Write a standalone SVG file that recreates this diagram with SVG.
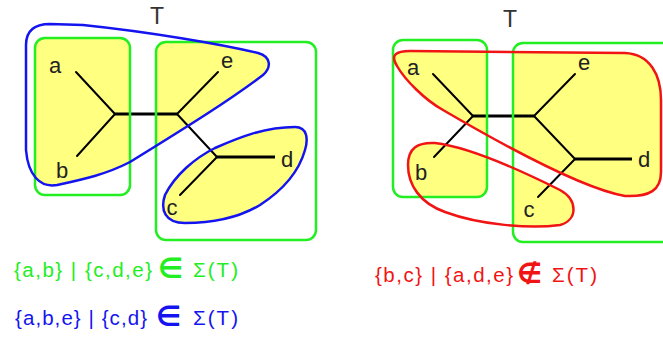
<svg xmlns="http://www.w3.org/2000/svg" width="663" height="338" viewBox="0 0 663 338">
<style>
.lbl{font-family:"Liberation Sans",Arial,sans-serif;font-size:22px;fill:#222;text-anchor:middle}
.ttl{font-family:"Liberation Sans",Arial,sans-serif;font-size:23px;fill:#333;text-anchor:middle}
.edge{stroke:#000;stroke-width:2;fill:none;stroke-linecap:round}
.thick{stroke:#000;stroke-width:3;fill:none}
.grn{fill:none;stroke:#22ee22;stroke-width:2.5}
.blu{fill:none;stroke:#1414f0;stroke-width:2.5}
.red{fill:none;stroke:#f01414;stroke-width:2.5}
.fx{font-family:"Liberation Sans",Arial,sans-serif;font-size:20.5px}
.op{font-family:"DejaVu Sans",sans-serif;font-size:28px;font-weight:bold}
.yel{fill:#ffff80}
</style>
<defs>
<path id="b1" d="M 26,150 L 26,45 C 26,30 35,24 50,24 L 83,25 C 150,32 220,44 258,53 C 272,57 271,68 263,75 C 230,100 190,125 130,162 C 105,175 80,180 57,185 C 40,188 28,175 26,150 Z"/>
<path id="b2" d="M 165,195 C 175,175 195,158 215,148 C 240,137 265,127 295,127 C 308,127 308,140 305,150 C 298,175 280,192 260,205 C 240,217 215,223 185,223 C 165,223 160,210 165,195 Z"/>
<path id="r1" d="M 397,66 C 390,55 396,51 410,51 L 625,53 C 650,54 661,75 661,100 L 661,172 C 661,190 650,197 625,196 C 590,190 520,155 443,110 C 425,100 405,80 397,66 Z"/>
<path id="r2" d="M 408,165 C 408,148 418,142 435,143 C 470,147 520,170 560,190 C 578,200 578,220 560,225 C 530,229 480,225 445,212 C 420,203 408,185 408,165 Z"/>
<clipPath id="clipL"><use href="#b1"/><use href="#b2"/></clipPath>
<clipPath id="clipR"><use href="#r1"/><use href="#r2"/></clipPath>
</defs>

<g id="fills">
<g clip-path="url(#clipL)">
<rect class="yel" x="35" y="38" width="95" height="157" rx="10"/>
<rect class="yel" x="156" y="42" width="160" height="198" rx="10"/>
</g>
<g clip-path="url(#clipR)">
<rect class="yel" x="393" y="40" width="94" height="157" rx="10"/>
<rect class="yel" x="513" y="43" width="160" height="199" rx="10"/>
</g>
</g>

<g id="connectors">
<line class="edge" x1="76" y1="72" x2="115" y2="114"/>
<line class="edge" x1="77" y1="156" x2="115" y2="114"/>
<line class="thick" x1="115" y1="114" x2="177" y2="114"/>
<line class="edge" x1="177" y1="114" x2="218" y2="72"/>
<line class="edge" x1="177" y1="114" x2="217" y2="157"/>
<line class="thick" x1="217" y1="157" x2="275" y2="157"/>
<line class="edge" x1="217" y1="157" x2="180" y2="195"/>
<line class="edge" x1="433" y1="74" x2="473" y2="116"/>
<line class="edge" x1="434" y1="157" x2="473" y2="116"/>
<line class="thick" x1="473" y1="116" x2="534" y2="116"/>
<line class="edge" x1="534" y1="116" x2="575" y2="74"/>
<line class="edge" x1="534" y1="116" x2="575" y2="159"/>
<line class="thick" x1="575" y1="159" x2="632" y2="159"/>
<line class="edge" x1="575" y1="159" x2="538" y2="197"/>
</g>

<g id="tree-left">
<text class="ttl" x="157" y="24">T</text>
<g id="node-a1"><text class="lbl" x="55" y="73">a</text></g>
<g id="node-b1"><text class="lbl" x="62" y="178">b</text></g>
<g id="node-e1"><text class="lbl" x="227" y="68">e</text></g>
<g id="node-d1"><text class="lbl" x="287" y="167">d</text></g>
<g id="node-c1"><text class="lbl" x="172" y="215">c</text></g>
<rect id="box-ab" class="grn" x="35" y="38" width="95" height="157" rx="10"/>
<rect id="box-cde" class="grn" x="156" y="42" width="160" height="198" rx="10"/>
<use id="set-abe" href="#b1" class="blu"/>
<use id="set-cd" href="#b2" class="blu"/>
</g>

<g id="tree-right">
<text class="ttl" x="510" y="27">T</text>
<g id="node-a2"><text class="lbl" x="413" y="75">a</text></g>
<g id="node-b2"><text class="lbl" x="421" y="180">b</text></g>
<g id="node-e2"><text class="lbl" x="584" y="70">e</text></g>
<g id="node-d2"><text class="lbl" x="644" y="167">d</text></g>
<g id="node-c2"><text class="lbl" x="529" y="217">c</text></g>
<rect id="box-ab2" class="grn" x="393" y="40" width="94" height="157" rx="10"/>
<rect id="box-cde2" class="grn" x="513" y="43" width="160" height="199" rx="10"/>
<use id="set-ade" href="#r1" class="red"/>
<use id="set-bc" href="#r2" class="red"/>
</g>

<g id="formulas">
<text fill="#22ee22"><tspan class="fx" x="14" y="277" textLength="138" lengthAdjust="spacing">{a,b} | {c,d,e}</tspan><tspan class="op" x="158" y="278">∈</tspan><tspan class="fx" x="193" y="277" textLength="45" lengthAdjust="spacing">Σ(T)</tspan></text>
<text fill="#1414f0"><tspan class="fx" x="15" y="325" textLength="132" lengthAdjust="spacing">{a,b,e} | {c,d}</tspan><tspan class="op" x="156" y="326">∈</tspan><tspan class="fx" x="193" y="325" textLength="45" lengthAdjust="spacing">Σ(T)</tspan></text>
<text fill="#f01414"><tspan class="fx" x="375" y="282" textLength="138" lengthAdjust="spacing">{b,c} | {a,d,e}</tspan><tspan class="op" x="517" y="283">∉</tspan><tspan class="fx" x="552" y="282" textLength="45" lengthAdjust="spacing">Σ(T)</tspan></text>
</g>
</svg>
